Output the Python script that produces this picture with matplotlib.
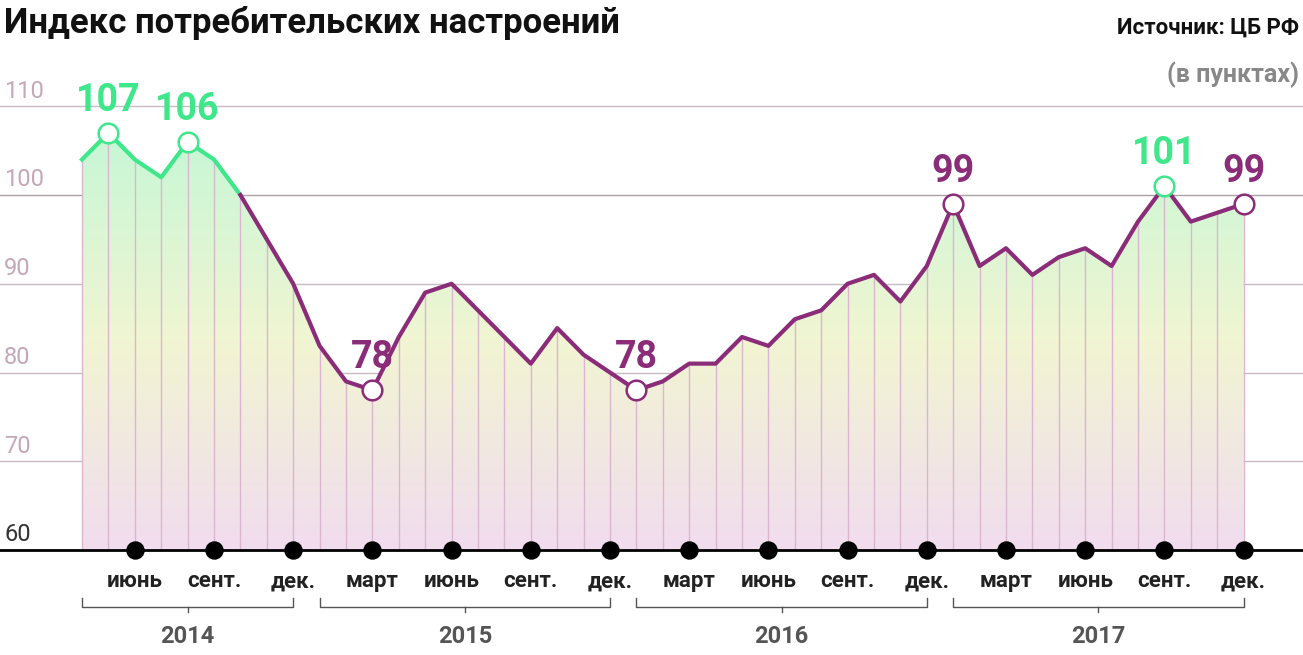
import numpy as np
import matplotlib
matplotlib.use("Agg")
import matplotlib.pyplot as plt
from matplotlib.patches import Polygon
from matplotlib.colors import LinearSegmentedColormap

plt.rcParams['font.family'] = ['Liberation Sans Narrow', 'Roboto', 'DejaVu Sans']
plt.rcParams['font.weight'] = 'bold'

values = [104, 107, 104, 102, 106, 104, 100, 95, 90,
          83, 79, 78, 84, 89, 90, 87, 84, 81, 85, 82, 80,
          78, 79, 81, 81, 84, 83, 86, 87, 90, 91, 88, 92,
          99, 92, 94, 91, 93, 94, 92, 97, 101, 97, 98, 99]
month_labels = ["июнь", "сент.", "дек.", "март", "июнь", "сент.", "дек.",
                "март", "июнь", "сент.", "дек.", "март", "июнь", "сент.", "дек."]
month_idx = [2, 5, 8, 11, 14, 17, 20, 23, 26, 29, 32, 35, 38, 41, 44]
years = ["2014", "2015", "2016", "2017"]
year_spans = [(0, 8), (9, 20), (21, 32), (33, 44)]
peaks = [1, 4, 11, 21, 33, 41, 44]
peak_green = [True, True, False, False, False, True, False]
yticks = [60, 70, 80, 90, 100, 110]

PURPLE = "#8a2c78"
GREEN = "#3ee88a"
x = np.arange(len(values))

fig = plt.figure(figsize=(13.03, 6.55), dpi=100)
ax = fig.add_axes([0, 0, 1, 1])
ax.set_xlim(-82 / 26.4, (1303 - 82) / 26.4)
ax.set_ylim(60 - 105 / 8.875, 60 + 550 / 8.875)
ax.axis('off')

grad = np.linspace(0, 1, 256).reshape(-1, 1)
cmap = LinearSegmentedColormap.from_list("g", ["#f2dcef", "#f1f5d2", "#c6f7d6"])
im = ax.imshow(grad, cmap=cmap, origin='lower', aspect='auto',
               extent=[0, len(values) - 1, 60, 107], zorder=1)
poly = Polygon(list(zip(x, values)) + [(x[-1], 60), (0, 60)], closed=True,
               facecolor='none', edgecolor='none')
ax.add_patch(poly)
im.set_clip_path(poly)

for yv in yticks[1:]:
    ax.plot([-3.1, 46.3], [yv, yv], color="#c8b9c4" if yv != 100 else "#aaa0a8",
            lw=1, zorder=0.5)
    ax.text(-2.95, yv + 0.4, str(yv), color="#c4a8b8", fontsize=17, va='bottom',
            weight='normal')
ax.text(-2.95, 60.4, "60", color="#333", fontsize=17, va='bottom', weight='normal')

ax.vlines(x, 60, values, color="#dbb6cf", lw=1, zorder=2)
ax.plot(x[:7], values[:7], color=GREEN, lw=3, zorder=3)
ax.plot(x[6:], values[6:], color=PURPLE, lw=3, zorder=3)

ax.plot([-3.1, 46.3], [60, 60], color='black', lw=2, zorder=4)
ax.scatter(month_idx, [60] * len(month_idx), s=150, color='black', zorder=5)
for i, lab in zip(month_idx, month_labels):
    ax.text(i, 56.5, lab, ha='center', va='center', fontsize=16, color='#222')

for (a, b), yr in zip(year_spans, years):
    yb = 53.6
    ax.plot([a, a, b, b], [yb + 1.0, yb, yb, yb + 1.0], color='#555', lw=1,
            solid_joinstyle='round')
    ax.plot([(a + b) / 2] * 2, [yb, yb - 0.6], color='#555', lw=1)
    ax.text((a + b) / 2, 50.3, yr, ha='center', va='center', fontsize=17, color='#555')

for i, g in zip(peaks, peak_green):
    c = GREEN if g else PURPLE
    ax.scatter([i], [values[i]], s=200, facecolor='white', edgecolor=c, lw=1.8, zorder=6)
    ax.text(i, values[i] + 1.6, str(values[i]), ha='center', va='bottom',
            fontsize=27, color=c, zorder=7)

fig.text(0.003, 0.965, "Индекс потребительских настроений", fontsize=25,
         va='center', ha='left', color='#111')
fig.text(0.997, 0.958, "Источник: ЦБ РФ", fontsize=16, va='center', ha='right', color='#111')
fig.text(0.997, 0.886, "(в пунктах)", fontsize=18, va='center', ha='right', color='#888')

fig.savefig("out.png", dpi=100)
